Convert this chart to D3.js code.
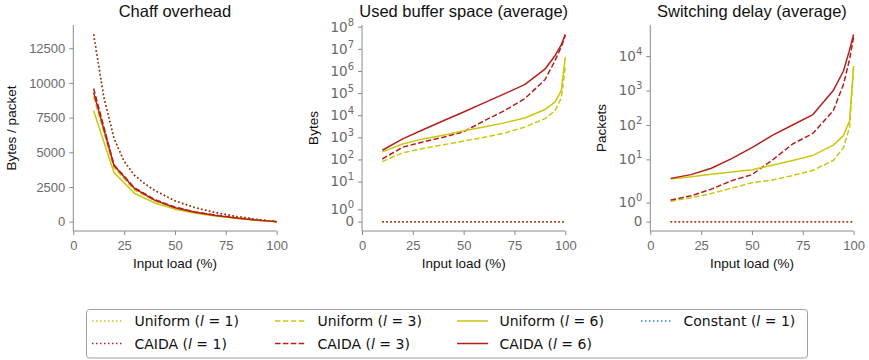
<!DOCTYPE html>
<html>
<head>
<meta charset="utf-8">
<script src="https://cdn.jsdelivr.net/npm/d3@7"></script>
<style>
  body { margin: 0; background: #fff; }
  svg { font-family: "Liberation Sans", Arial, sans-serif; }
</style>
</head>
<body>
<svg id="chart" width="869" height="360"></svg>
<script>
// input load (%) for the simulated points
const loads = [10, 20, 30, 40, 50, 60, 70, 80, 90, 95, 98, 100];
const loadsFine = [10, 15, 20, 25, 30, 35, 40, 50, 60, 70, 80, 90, 100];

// chaff overhead, bytes / packet
const chaffConstant1 = [13500, 9000, 6000, 4350, 3350, 2750, 2250, 1500, 1000, 650, 380, 170, 0];
const chaffUniform1 = [13500, 9000, 6000, 4350, 3350, 2750, 2250, 1500, 1000, 650, 380, 170, 0];
const chaffCaida1 = [13500, 9000, 6000, 4350, 3350, 2750, 2250, 1500, 1000, 650, 380, 170, 0];
const chaffUniform3 = [9000, 3900, 2300, 1500, 1000, 650, 440, 260, 110, 55, 22, 0];
const chaffCaida3 = [9600, 4100, 2450, 1600, 1050, 700, 470, 280, 120, 60, 25, 0];
const chaffUniform6 = [8000, 3550, 2050, 1350, 900, 600, 400, 240, 100, 50, 20, 0];
const chaffCaida6 = [9300, 4050, 2400, 1550, 1000, 680, 450, 270, 115, 55, 22, 0];

// used buffer space, bytes
const bufConstant1 = [0, 0, 0, 0, 0, 0, 0, 0, 0, 0, 0, 0];
const bufUniform1 = [0, 0, 0, 0, 0, 0, 0, 0, 0, 0, 0, 0];
const bufCaida1 = [0, 0, 0, 0, 0, 0, 0, 0, 0, 0, 0, 0];
const bufUniform3 = [80, 200, 310, 460, 680, 1000, 1550, 2900, 7000, 16000, 60000, 1.5e6];
const bufCaida3 = [105, 360, 620, 1000, 1800, 5500, 16000, 55000, 4e5, 3e6, 1.2e7, 4e7];
const bufUniform6 = [220, 500, 850, 1250, 2000, 2900, 4500, 7500, 18000, 40000, 130000, 4.2e6];
const bufCaida6 = [260, 850, 2200, 5600, 14000, 36000, 92000, 240000, 1.2e6, 5e6, 1.5e7, 4.5e7];

// switching delay, packets
const delayConstant1 = [0, 0, 0, 0, 0, 0, 0, 0, 0, 0, 0, 0];
const delayUniform1 = [0, 0, 0, 0, 0, 0, 0, 0, 0, 0, 0, 0];
const delayCaida1 = [0, 0, 0, 0, 0, 0, 0, 0, 0, 0, 0, 0];
const delayUniform3 = [1.07, 1.25, 1.47, 1.75, 2.1, 2.5, 3.4, 4.8, 9.3, 22, 85, 4500];
const delayCaida3 = [1.13, 1.35, 1.7, 2.4, 3.6, 9.5, 28, 57, 260, 1500, 8000, 35000];
const delayUniform6 = [2.7, 3.1, 3.7, 4.3, 5.0, 6.7, 9.3, 13, 26, 49, 130, 5200];
const delayCaida6 = [2.8, 3.6, 5.5, 10.5, 22, 50, 100, 200, 1000, 3700, 15000, 43000];

const xTicks = [0, 25, 50, 75, 100];
const chaffTicks = [0, 2500, 5000, 7500, 10000, 12500];
const bufTicks = [0, 1, 1e1, 1e2, 1e3, 1e4, 1e5, 1e6, 1e7, 1e8];
const delayTicks = [0, 1, 1e1, 1e2, 1e3, 1e4];

const YELLOW = "#cbc60e", RED = "#b3201d", BLUE = "#2f7fc1";
const DOT = "1.5,2.5", DASH = "5.5,2.4";
const MATH_FONT = "'DejaVu Sans', sans-serif";

const series = [
  {key: "constant1", name: "Constant", l: 1, color: BLUE, dash: DOT, col: 3, row: 0},
  {key: "uniform1", name: "Uniform", l: 1, color: YELLOW, dash: DOT, col: 0, row: 0},
  {key: "caida1", name: "CAIDA", l: 1, color: RED, dash: DOT, col: 0, row: 1},
  {key: "uniform3", name: "Uniform", l: 3, color: YELLOW, dash: DASH, col: 1, row: 0},
  {key: "caida3", name: "CAIDA", l: 3, color: RED, dash: DASH, col: 1, row: 1},
  {key: "uniform6", name: "Uniform", l: 6, color: YELLOW, dash: null, col: 2, row: 0},
  {key: "caida6", name: "CAIDA", l: 6, color: RED, dash: null, col: 2, row: 1}
];

const panels = [
  {title: "Chaff overhead", ylabel: "Bytes / packet", log: false, ticks: chaffTicks, labelOff: 57,
   data: {constant1: chaffConstant1, uniform1: chaffUniform1, caida1: chaffCaida1, uniform3: chaffUniform3,
          caida3: chaffCaida3, uniform6: chaffUniform6, caida6: chaffCaida6}},
  {title: "Used buffer space (average)", ylabel: "Bytes", log: true, ticks: bufTicks, labelOff: 44.5,
   data: {constant1: bufConstant1, uniform1: bufUniform1, caida1: bufCaida1, uniform3: bufUniform3,
          caida3: bufCaida3, uniform6: bufUniform6, caida6: bufCaida6}},
  {title: "Switching delay (average)", ylabel: "Packets", log: true, ticks: delayTicks, labelOff: 44,
   data: {constant1: delayConstant1, uniform1: delayUniform1, caida1: delayCaida1, uniform3: delayUniform3,
          caida3: delayCaida3, uniform6: delayUniform6, caida6: delayCaida6}}
];

// matplotlib style symlog (linthresh 2, linscale 1)
const LINTHRESH = 2, LINADJ = 1 / (1 - 1 / 10);
function symlog(v) {
  const a = Math.abs(v);
  if (a <= LINTHRESH) return v * LINADJ / LINTHRESH;
  return Math.sign(v) * (LINADJ + Math.log10(a / LINTHRESH));
}

const svg = d3.select("#chart");
const TOP = 25, BOTTOM = 231, W = 203.3;
const lefts = [73.3, 362, 650.3];
const SPINE = "#8a8a8a", TICKTXT = "#6a6a6a";

panels.forEach((p, i) => {
  const x0 = lefts[i];
  const g = svg.append("g").attr("transform", `translate(${x0},0)`);
  const tf = p.log ? symlog : (v => v);

  const x = d3.scaleLinear().domain([0, 100]).range([0, W]);
  const allVals = series.flatMap(s => p.data[s.key].map(tf));
  const lo = d3.min(allVals), hi = d3.max(allVals);
  const pad = (hi - lo) * 0.05;
  const y = d3.scaleLinear().domain([lo - pad, hi + pad]).range([BOTTOM, TOP]);

  // lines
  series.forEach(s => {
    const vals = p.data[s.key];
    const xs = vals.length === loadsFine.length ? loadsFine : loads;
    const line = d3.line().x((d, j) => x(xs[j])).y(d => y(tf(d)));
    g.append("path")
      .datum(vals)
      .attr("d", line)
      .attr("fill", "none")
      .attr("stroke", s.color)
      .attr("stroke-width", 1.5)
      .attr("stroke-dasharray", s.dash)
      .attr("stroke-linejoin", "round");
  });

  // x axis
  const xa = g.append("g")
    .attr("transform", `translate(0,${BOTTOM})`)
    .call(d3.axisBottom(x).tickValues(xTicks).tickSize(4).tickPadding(5.5).tickSizeOuter(0));
  xa.attr("font-family", null);
  xa.selectAll("text").attr("font-size", 13).attr("fill", TICKTXT);

  // y axis
  const ya = g.append("g")
    .call(d3.axisLeft(y).tickValues(p.ticks.map(tf)).tickFormat((d, j) => String(p.ticks[j]))
      .tickSize(4).tickPadding(4).tickSizeOuter(0));
  ya.attr("font-family", null);
  ya.selectAll("text").attr("font-size", 13).attr("fill", TICKTXT);
  if (p.log) {
    ya.selectAll(".tick text").each(function(d, j) {
      const v = p.ticks[j];
      const t = d3.select(this).text(null).style("font-family", MATH_FONT).attr("font-size", 13.5);
      if (v === 0) { t.text("0"); return; }
      t.append("tspan").text("10");
      t.append("tspan").attr("font-size", 10).attr("dy", "-0.6em").text(Math.round(Math.log10(v)));
    });
  }
  [xa, ya].forEach(a => {
    a.select(".domain").attr("stroke", SPINE).attr("stroke-width", 1);
    a.selectAll(".tick line").attr("stroke", SPINE);
  });
  ya.select(".domain").attr("d", `M0,${TOP}V${BOTTOM}`);
  xa.select(".domain").attr("d", `M0,0H${W}`);

  // labels
  g.append("text").attr("x", W / 2).attr("y", 17).attr("text-anchor", "middle")
    .attr("font-size", 16.5).attr("fill", "#111").text(p.title);
  g.append("text").attr("x", W / 2).attr("y", 268).attr("text-anchor", "middle")
    .attr("font-size", 13.5).attr("fill", "#111").text("Input load (%)");
  g.append("text").attr("transform", `translate(${-p.labelOff},${(TOP + BOTTOM) / 2}) rotate(-90)`)
    .attr("text-anchor", "middle").attr("font-size", 13.5).attr("fill", "#111").text(p.ylabel);
});

// legend
const legend = svg.append("g");
legend.append("rect").attr("x", 86.5).attr("y", 309.5).attr("width", 721).attr("height", 48.5)
  .attr("rx", 3).attr("fill", "#fff").attr("stroke", "#a0a0a0").attr("stroke-width", 1);
const colX = [92, 275, 457, 641];
const rowY = [321, 343.5];
const legendOrder = series.slice(1).concat(series.slice(0, 1));
legendOrder.forEach(s => {
  const lx = colX[s.col], ly = rowY[s.row];
  legend.append("line").attr("x1", lx).attr("x2", lx + 31).attr("y1", ly).attr("y2", ly)
    .attr("stroke", s.color).attr("stroke-width", 1.5).attr("stroke-dasharray", s.dash);
  const t = legend.append("text").attr("x", lx + 42.5).attr("y", ly).attr("dy", "0.36em")
    .style("font-family", MATH_FONT).attr("font-size", 14).attr("fill", "#111");
  t.append("tspan").text(s.name + " (");
  t.append("tspan").attr("font-style", "italic").text("l");
  t.append("tspan").text(" = " + s.l + ")");
});
</script>
</body>
</html>
